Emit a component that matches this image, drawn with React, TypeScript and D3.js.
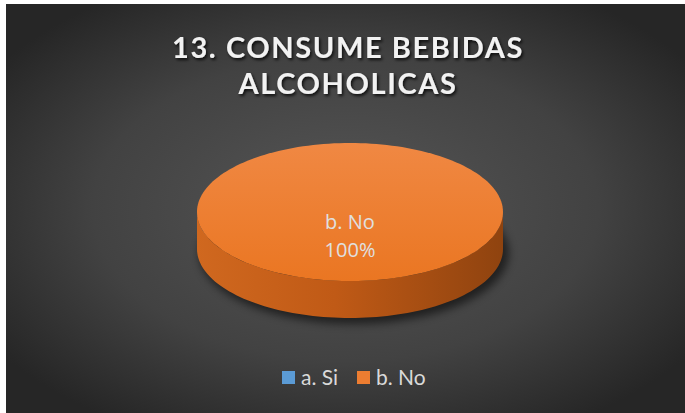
import React from "react";
import * as d3 from "d3";

const categories = ["a. Si", "b. No"];
const values = [0, 100];
const colors = ["#5b9bd5", "#ed7d31"];
const titleLines = ["13. CONSUME BEBIDAS", "ALCOHOLICAS"];

const W = 685;
const H = 413;

export default function App() {
  const cx = 350;
  const cy = 212;
  const rx = 153;
  const ry = 69;
  const depth = 37;

  const pie = d3.pie<number>().sort(null).value((d) => d);
  const arcs = pie(values);
  const total = d3.sum(values);
  const fmt = d3.format(".0%");

  const pt = (a: number, dy = 0) => {
    const t = a - Math.PI / 2;
    return [cx + rx * Math.cos(t), cy + dy + ry * Math.sin(t)];
  };

  const topPath = (s: number, e: number) => {
    const steps = Math.max(8, Math.ceil(((e - s) / (2 * Math.PI)) * 180));
    const pts = d3.range(steps + 1).map((i) => pt(s + ((e - s) * i) / steps));
    const full = e - s >= 2 * Math.PI - 1e-6;
    const line = pts.map((p, i) => (i ? "L" : "M") + p[0] + "," + p[1]).join("");
    return full ? line + "Z" : `M${cx},${cy}` + line.replace(/^M/, "L") + "Z";
  };

  const sidePath = (s: number, e: number) => {
    const a0 = Math.max(s, Math.PI / 2);
    const a1 = Math.min(e, (3 * Math.PI) / 2);
    if (a1 <= a0) return null;
    const steps = 90;
    const up = d3.range(steps + 1).map((i) => pt(a0 + ((a1 - a0) * i) / steps));
    const down = d3
      .range(steps + 1)
      .map((i) => pt(a1 - ((a1 - a0) * i) / steps, depth));
    const all = up.concat(down);
    return all.map((p, i) => (i ? "L" : "M") + p[0] + "," + p[1]).join("") + "Z";
  };

  const legendX = d3.scalePoint<string>().domain(categories).range([282, 357]);

  return (
    <svg
      width={W}
      height={H}
      style={{ position: "absolute", left: 0, top: 0, display: "block" }}
      fontFamily="Lato, 'Open Sans', sans-serif"
    >
      <defs>
        <radialGradient id="bg" cx="0.5" cy="0.5" r="0.62">
          <stop offset="0" stopColor="#565656" />
          <stop offset="0.6" stopColor="#424242" />
          <stop offset="1" stopColor="#262626" />
        </radialGradient>
        <linearGradient id="side" x1="0" x2="1" y1="0" y2="0">
          <stop offset="0" stopColor="#d0681f" />
          <stop offset="0.45" stopColor="#c05a16" />
          <stop offset="1" stopColor="#8f430f" />
        </linearGradient>
        <linearGradient id="top" x1="0" x2="0" y1="0" y2="1">
          <stop offset="0" stopColor="#f08843" />
          <stop offset="1" stopColor="#ea7622" />
        </linearGradient>
        <filter id="shadow" x="-20%" y="-20%" width="140%" height="160%">
          <feGaussianBlur stdDeviation="4" />
        </filter>
        <filter id="tshadow" x="-10%" y="-30%" width="120%" height="160%">
          <feDropShadow dx="1.5" dy="2" stdDeviation="1.5" floodColor="#000" floodOpacity="0.8" />
        </filter>
      </defs>
      <rect x={6} y={4} width={W - 6} height={H - 4} fill="url(#bg)" />

      {titleLines.map((t, i) => (
        <text
          key={i}
          x={348}
          y={58 + i * 36}
          textAnchor="middle"
          fontSize={29}
          fontWeight={700}
          letterSpacing={1.6}
          fill="#f2f2f2"
          filter="url(#tshadow)"
        >
          {t}
        </text>
      ))}

      <ellipse
        cx={cx + 4}
        cy={cy + depth + 4}
        rx={rx + 2}
        ry={ry + 2}
        fill="#000"
        opacity={0.55}
        filter="url(#shadow)"
      />

      {arcs.map((a, i) => {
        const p = sidePath(a.startAngle, a.endAngle);
        return p && a.value > 0 ? (
          <path key={"s" + i} d={p} fill={i === 1 ? "url(#side)" : colors[i]} />
        ) : null;
      })}
      {arcs.map((a, i) =>
        a.value > 0 ? (
          <path key={"t" + i} d={topPath(a.startAngle, a.endAngle)} fill={i === 1 ? "url(#top)" : colors[i]} />
        ) : null
      )}

      {arcs.map((a, i) => {
        if (a.value <= 0) return null;
        const full = a.endAngle - a.startAngle >= 2 * Math.PI - 1e-6;
        const mid = (a.startAngle + a.endAngle) / 2;
        const t = mid - Math.PI / 2;
        const lx = full ? cx : cx + rx * 0.5 * Math.cos(t);
        const ly = full ? cy : cy + ry * 0.5 * Math.sin(t);
        return (
          <g key={"l" + i} fill="#e0e0e0" fontSize={20} textAnchor="middle" fontFamily="'Open Sans', Lato, sans-serif">
            <text x={lx} y={ly + 17}>{categories[i]}</text>
            <text x={lx} y={ly + 45}>{fmt(a.value / total)}</text>
          </g>
        );
      })}

      {categories.map((c, i) => (
        <g key={"lg" + i} transform={`translate(${legendX(c)},371)`}>
          <rect width={13} height={13} fill={colors[i]} />
          <text x={19} y={13.5} fontSize={21} fill="#d9d9d9" fontFamily="Lato, 'Open Sans', sans-serif">
            {c}
          </text>
        </g>
      ))}
    </svg>
  );
}
